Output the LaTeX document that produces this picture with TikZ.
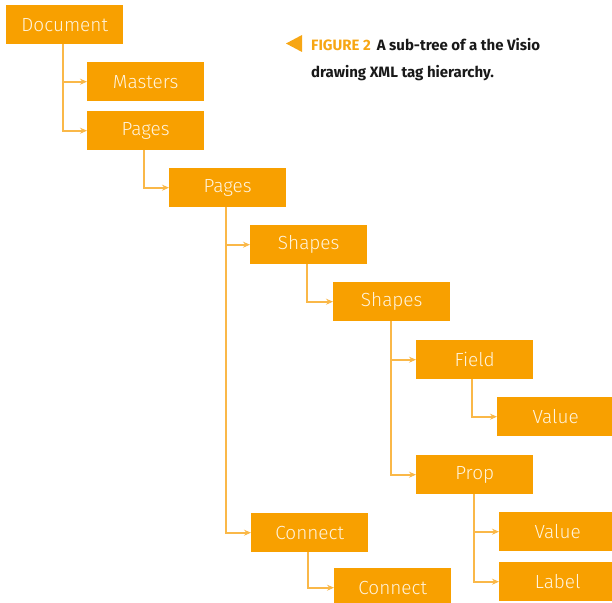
\documentclass[tikz,border=0pt]{standalone}
\usepackage{fontspec}
\setmainfont{Fira Sans}
\newfontfamily\boxfont{Fira Sans Light}
\newfontfamily\capfont{Fira Sans}
\usetikzlibrary{arrows.meta}
\definecolor{boxor}{RGB}{248,160,0}
\definecolor{lineor}{RGB}{250,184,72}
\definecolor{txt}{RGB}{255,244,222}
\definecolor{capor}{RGB}{247,166,20}
\definecolor{capbk}{RGB}{25,25,25}
\begin{document}
\begin{tikzpicture}[x=1pt,y=-1pt,
  tagbox/.style={rectangle,fill=boxor,draw=none,minimum width=117pt,minimum height=39pt,
    anchor=north west,inner sep=0pt,text=txt,font=\boxfont\fontsize{19}{22}\selectfont},
  conn/.style={draw=lineor,line width=1.6pt,-{Stealth[length=7pt,width=6pt,fill=boxor]}}]
\useasboundingbox (0,0) rectangle (612,602);
\node[tagbox] (doc) at (6,5) {Document};
\node[tagbox] (masters) at (87,62) {Masters};
\node[tagbox] (pages1) at (87,111) {Pages};
\node[tagbox] (pages2) at (169,168) {Pages};
\node[tagbox] (shapes1) at (250,225) {Shapes};
\node[tagbox] (shapes2) at (333,282) {Shapes};
\node[tagbox] (field) at (416,340) {Field};
\node[tagbox] (value1) at (497,397) {Value};
\node[tagbox] (prop) at (416,455) {Prop};
\node[tagbox] (value2) at (499,512) {Value};
\node[tagbox] (label) at (499,562) {Label};
\node[tagbox] (connect1) at (251,513) {Connect};
\node[tagbox] (connect2) at (334,568) {Connect};
\draw[conn] ([xshift=-2pt]doc.south) |- (masters.west);
\draw[conn] ([xshift=-2pt]doc.south) |- (pages1.west);
\draw[conn] ([xshift=-2pt]pages1.south) |- (pages2.west);
\draw[conn] ([xshift=-2pt]pages2.south) |- (shapes1.west);
\draw[conn] ([xshift=-2pt]pages2.south) |- (connect1.west);
\draw[conn] ([xshift=-2pt]shapes1.south) |- (shapes2.west);
\draw[conn] ([xshift=-1pt]shapes2.south) |- (field.west);
\draw[conn] ([xshift=-1pt]shapes2.south) |- (prop.west);
\draw[conn] ([xshift=-3pt]field.south) |- (value1.west);
\draw[conn] ([xshift=-1pt]prop.south) |- (value2.west);
\draw[conn] ([xshift=-1pt]prop.south) |- (label.west);
\draw[conn] ([xshift=-2pt]connect1.south) |- (connect2.west);
\fill[capor] (286,43.5) -- (302,35) -- (302,52) -- cycle;
\node[anchor=base west,inner sep=0pt,font=\capfont\bfseries\fontsize{15}{18}\selectfont] (cap1) at (311,50)
  {\textcolor{capor}{FIGURE 2}\hspace{6pt}\textcolor{capbk}{A sub-tree of a the Visio}};
\node[anchor=base west,inner sep=0pt,font=\capfont\bfseries\fontsize{15}{18}\selectfont,text=capbk] (cap2) at (311,77)
  {drawing XML tag hierarchy.};
\end{tikzpicture}
\end{document}
